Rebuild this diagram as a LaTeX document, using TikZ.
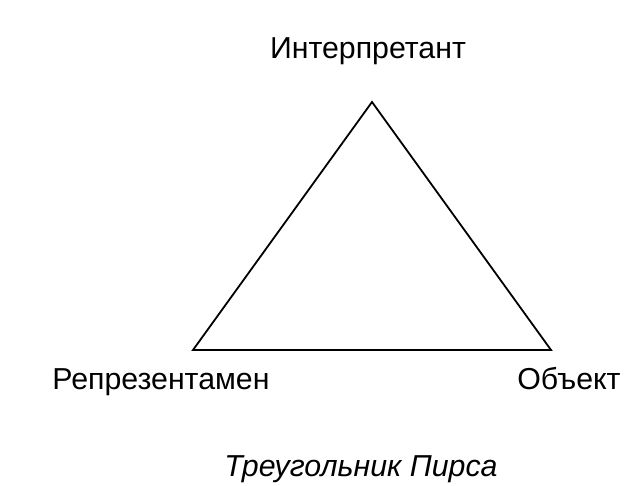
\documentclass[tikz,border=0pt]{standalone}
\usepackage{fontspec}
\setmainfont{Liberation Sans}
\begin{document}
\begin{tikzpicture}[x=1pt,y=-1pt,
  lbl/.style={anchor=base,inner sep=0pt,font=\fontsize{30.3}{36}\selectfont},
  edge/.style={line width=1.8pt,line join=miter}]
\useasboundingbox (0,0) rectangle (636,486);
\coordinate (I) at (372,102);
\coordinate (R) at (193,350);
\coordinate (O) at (551,350);
\draw[edge] (I) -- (O) -- (R) -- cycle;
\node[lbl] (tI) at (368,59) {Интерпретант};
\node[lbl] (tR) at (161,389) {Репрезентамен};
\node[lbl] (tO) at (569,389) {Объект};
\node[lbl,font=\fontsize{30.3}{36}\selectfont\itshape] (cap) at (361,476) {Треугольник Пирса};
\end{tikzpicture}
\end{document}
